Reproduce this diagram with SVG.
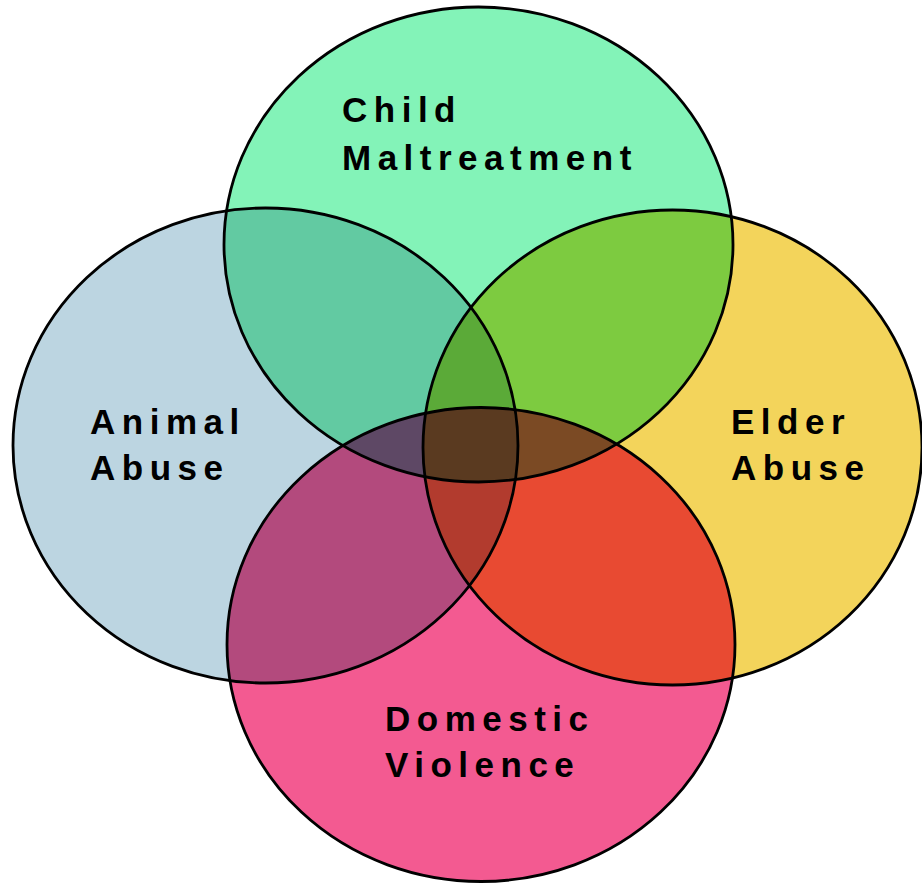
<svg xmlns="http://www.w3.org/2000/svg" width="922" height="884" viewBox="0 0 922 884">
<style>
.lbl{font-family:"Liberation Sans",Arial,sans-serif;font-weight:bold;font-size:35px;letter-spacing:6.5px;fill:#000}
.ol{fill:none;stroke:#000;stroke-width:2.8}
</style>
<defs>
<ellipse id="eT" cx="478.5" cy="244.5" rx="254.5" ry="237.5"/>
<ellipse id="eL" cx="265.5" cy="445.5" rx="252.5" ry="237.5"/>
<ellipse id="eR" cx="672.5" cy="447.5" rx="249.5" ry="237.5"/>
<ellipse id="eB" cx="481" cy="644.5" rx="254" ry="237"/>
<clipPath id="cT"><use href="#eT"/></clipPath>
<clipPath id="cL"><use href="#eL"/></clipPath>
<clipPath id="cR"><use href="#eR"/></clipPath>
<clipPath id="cB"><use href="#eB"/></clipPath>
</defs>
<rect width="922" height="884" fill="#fff"/>
<g id="child-maltreatment">
<use href="#eT" fill="#83F3B8"/>
<text class="lbl" x="342" y="122">Child</text>
<text class="lbl" x="342" y="170">Maltreatment</text>
</g>
<g id="animal-abuse">
<use href="#eL" fill="#BCD5E1"/>
<text class="lbl" x="90" y="434">Animal</text>
<text class="lbl" x="90" y="480">Abuse</text>
</g>
<g id="elder-abuse">
<use href="#eR" fill="#F3D45B"/>
<text class="lbl" x="731" y="434">Elder</text>
<text class="lbl" x="731" y="480">Abuse</text>
</g>
<g id="domestic-violence">
<use href="#eB" fill="#F35A91"/>
<text class="lbl" x="385" y="731">Domestic</text>
<text class="lbl" x="385" y="777">Violence</text>
</g>
<g id="overlaps">
<g clip-path="url(#cT)"><use href="#eL" fill="#62CAA2"/></g>
<g clip-path="url(#cT)"><use href="#eR" fill="#7DCB40"/></g>
<g clip-path="url(#cL)"><use href="#eB" fill="#B34A7D"/></g>
<g clip-path="url(#cR)"><use href="#eB" fill="#E84A32"/></g>
<g clip-path="url(#cT)"><g clip-path="url(#cL)"><use href="#eR" fill="#5BAA38"/></g></g>
<g clip-path="url(#cT)"><g clip-path="url(#cL)"><use href="#eB" fill="#5E4865"/></g></g>
<g clip-path="url(#cT)"><g clip-path="url(#cR)"><use href="#eB" fill="#7B4A24"/></g></g>
<g clip-path="url(#cL)"><g clip-path="url(#cR)"><use href="#eB" fill="#B23B2E"/></g></g>
<g clip-path="url(#cT)"><g clip-path="url(#cL)"><g clip-path="url(#cR)"><use href="#eB" fill="#5A3A20"/></g></g></g>
</g>
<g id="outlines">
<use href="#eT" class="ol"/>
<use href="#eL" class="ol"/>
<use href="#eR" class="ol"/>
<use href="#eB" class="ol"/>
</g>
</svg>
